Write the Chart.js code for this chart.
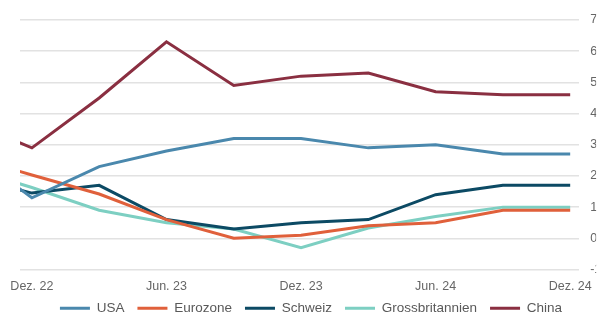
<!DOCTYPE html>
<html>
<head>
<meta charset="utf-8">
<script src="https://cdn.jsdelivr.net/npm/chart.js@4.4.1/dist/chart.umd.min.js"></script>
<style>
html, body { margin: 0; padding: 0; background: #fff; overflow: hidden; }
#wrap { width: 602px; height: 316px; }
</style>
</head>
<body>
<div id="wrap"><canvas id="inflChart"></canvas></div>
<script>
// Monate seit Dez. 22, Quartalswerte (Nov. 22 wird am linken Rand abgeschnitten)
const months = [-1, 0, 3, 6, 9, 12, 15, 18, 21, 24];
const usa = [1.83, 1.3, 2.3, 2.8, 3.2, 3.2, 2.9, 3.0, 2.7, 2.7];
const eurozone = [2.24, 2.03, 1.42, 0.6, 0.0, 0.1, 0.4, 0.5, 0.9, 0.9];
const schweiz = [1.64, 1.45, 1.7, 0.6, 0.3, 0.5, 0.6, 1.4, 1.7, 1.7];
const grossbritannien = [1.85, 1.63, 0.9, 0.5, 0.3, -0.3, 0.33, 0.7, 1.0, 1.0];
const china = [3.2, 2.9, 4.5, 6.3, 4.9, 5.2, 5.3, 4.7, 4.6, 4.6];

const tickMonths = [0, 6, 12, 18, 24];
const tickLabels = ['Dez. 22', 'Jun. 23', 'Dez. 23', 'Jun. 24', 'Dez. 24'];

const FONT = 'Liberation Sans, Arial, Helvetica, sans-serif';
const LEGEND_LIFT = 16;

function serie(label, values, color) {
    return {
        label: label,
        data: months.map((m, i) => ({ x: m, y: values[i] })),
        borderColor: color,
        backgroundColor: color,
        borderWidth: 3,
        pointRadius: 0,
        tension: 0,
        fill: false,
        clip: 0
    };
}

// Legende näher an die Achsenbeschriftung rücken (weniger Abstand oben)
const legendLift = {
    id: 'legendLift',
    beforeLayout(chart) {
        const lg = chart.legend;
        if (!lg || lg._lifted) return;
        lg._lifted = true;
        const fit = lg.fit.bind(lg);
        const draw = lg.draw.bind(lg);
        lg.fit = function () { fit(); this.height -= LEGEND_LIFT; };
        lg.draw = function () {
            this.top -= LEGEND_LIFT;
            draw();
            this.top += LEGEND_LIFT;
        };
    }
};

const ctx = document.getElementById('inflChart').getContext('2d');

new Chart(ctx, {
    type: 'line',
    data: {
        datasets: [
            serie('USA', usa, '#4a88ad'),
            serie('Eurozone', eurozone, '#e0603b'),
            serie('Schweiz', schweiz, '#0c4a64'),
            serie('Grossbritannien', grossbritannien, '#7dcfc2'),
            serie('China', china, '#8a2f41')
        ]
    },
    plugins: [legendLift],
    options: {
        responsive: true,
        maintainAspectRatio: false,
        animation: false,
        layout: { padding: { left: 20, top: 20, bottom: -9, right: 0 } },
        plugins: {
            tooltip: { enabled: false },
            legend: {
                position: 'bottom',
                labels: {
                    boxWidth: 30,
                    boxHeight: 3,
                    padding: 13,
                    color: '#595959',
                    font: { family: FONT, size: 13.5 },
                    generateLabels: (chart) => Chart.defaults.plugins.legend.labels.generateLabels(chart)
                        .map(l => Object.assign(l, { lineWidth: 0 }))
                }
            }
        },
        scales: {
            x: {
                type: 'linear',
                min: -0.53,
                max: 24.4,
                afterBuildTicks: (s) => { s.ticks = tickMonths.map(v => ({ value: v })); },
                grid: { display: false, drawTicks: false },
                border: { display: false },
                ticks: {
                    autoSkip: false,
                    maxRotation: 0,
                    padding: 10,
                    color: '#666',
                    font: { family: FONT, size: 12.5 },
                    callback: (v) => tickLabels[tickMonths.indexOf(v)]
                }
            },
            y: {
                position: 'right',
                min: -1,
                max: 7,
                afterFit: (s) => { s.width = 17; },
                grid: { color: '#e2e2e2', lineWidth: 1.5, drawTicks: false },
                border: { display: false },
                ticks: {
                    stepSize: 1,
                    padding: 11,
                    color: '#666',
                    font: { family: FONT, size: 12.5 }
                }
            }
        }
    }
});
</script>
</body>
</html>
